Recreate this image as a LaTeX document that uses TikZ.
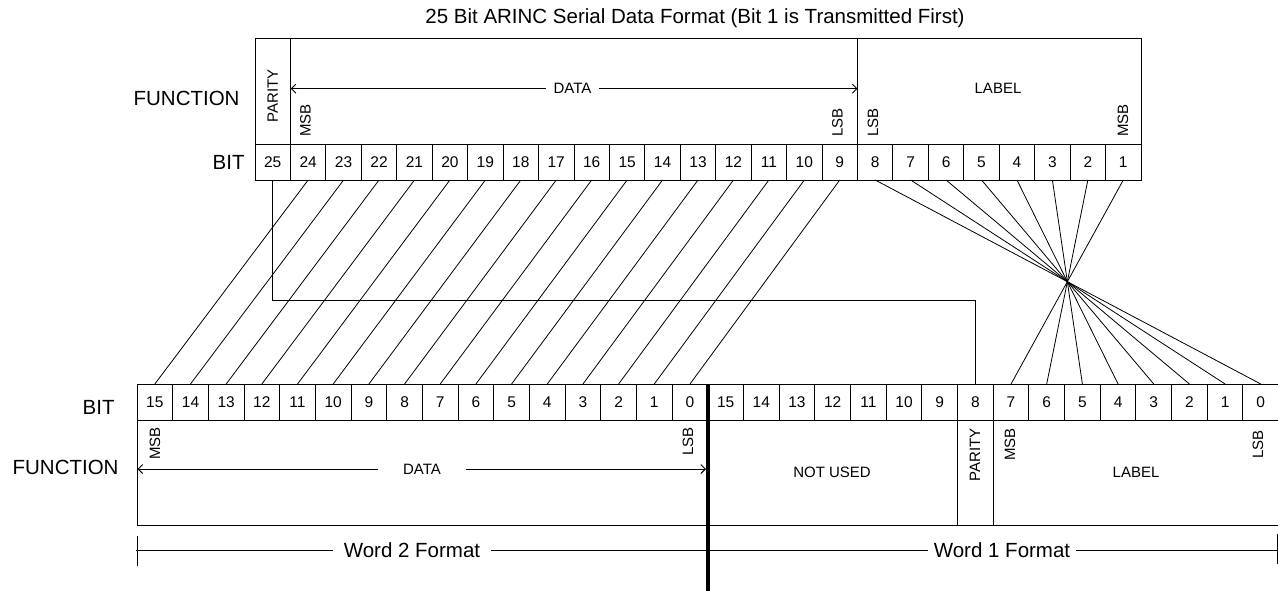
\documentclass[tikz,border=0pt]{standalone}
\usepackage{fontspec}
\setmainfont{Liberation Sans}
\usetikzlibrary{arrows.meta,calc}
\newcommand\numf{\fontsize{15.5}{18}\selectfont}
\newcommand\bigf{\fontsize{20.5}{24}\selectfont}
\newcommand\labf{\fontsize{15}{18}\selectfont}
\begin{document}
\begin{tikzpicture}[x=1pt,y=-1pt,line width=0.9pt,
  cellT/.style={draw, minimum width=35.44pt, minimum height=36pt, inner sep=0pt, outer sep=0pt, font=\numf},
  cellB/.style={draw, minimum width=35.675pt, minimum height=36pt, inner sep=0pt, outer sep=0pt, font=\numf},
  rot/.style={rotate=90, inner sep=0pt, font=\labf},
  lab/.style={font=\labf, inner sep=0pt},
  big/.style={font=\bigf, inner sep=0pt},
  conn/.style={line width=0.8pt},
  barb/.style={{Straight Barb[length=4.5pt,width=9pt]}-}]
\useasboundingbox (0,0) rectangle (1278,590);

% title
\node[big] (title) at (695,18) {25 Bit ARINC Serial Data Format (Bit 1 is Transmitted First)};

% ---------- top word ----------
\node[big, anchor=east] (fT) at (240,98.7) {FUNCTION};
\node[big, anchor=east] (bT) at (245,162) {BIT};
\draw (255,38) rectangle (1141,144);
\draw (290.72,38) -- (290.72,144);
\draw (857.5,38) -- (857.5,144);
\foreach \b in {25,...,1}
  \node[cellT] (tb\b) at ({272.72+35.44*(25-\b)},162) {\b};

\node[rot, anchor=west] (parT) at (272.7,123) {PARITY};
\node[rot, anchor=west] (msbT) at (305.5,137) {MSB};
\node[rot, anchor=west] (lsbT9) at (837.5,137) {LSB};
\node[rot, anchor=west] (lsbT8) at (873,137) {LSB};
\node[rot, anchor=west] (msbT1) at (1123,137) {MSB};

\node[lab, inner xsep=7.5pt] (dT) at (572.5,88.7) {DATA};
\coordinate (dTl) at (290.72,88.7);
\coordinate (dTr) at (857.5,88.7);
\draw[barb] (dTl) -- (dT.west);
\draw[-{Straight Barb[length=4.5pt,width=9pt]}] (dT.east) -- (dTr);
\node[lab] (labT) at (998,88) {LABEL};

% ---------- bottom words ----------
\node[big, anchor=east] (bB) at (115,407) {BIT};
\node[big, anchor=east] (fB) at (119,467) {FUNCTION};
\draw (137,420) rectangle (1279.5,525);
\draw (957.5,420) -- (957.5,525);
\draw (993.2,420) -- (993.2,525);
\foreach \k in {15,...,0}{
  \node[cellB] (w2b\k) at ({154.84+35.675*(15-\k)},402) {\k};
  \node[cellB] (w1b\k) at ({154.84+35.675*(31-\k)},402) {\k};
}

\node[rot, anchor=east] (msbB2) at (155,427) {MSB};
\node[rot, anchor=east] (lsbB2) at (688,427) {LSB};
\node[rot, anchor=east] (parB) at (975,428) {PARITY};
\node[rot, anchor=east] (msbB1) at (1010,428) {MSB};
\node[rot, anchor=east] (lsbB1) at (1258,430) {LSB};

\node[lab, inner xsep=24.5pt] (dB) at (422,469) {DATA};
\coordinate (dBl) at (137.5,469);
\coordinate (dBr) at (706,469);
\draw[barb] (dBl) -- (dB.west);
\draw[-{Straight Barb[length=4.5pt,width=9pt]}] (dB.east) -- (dBr);
\node[lab] (nu) at (832,472) {NOT USED};
\node[lab] (labB) at (1136,472) {LABEL};

% word format line
\node[big, inner xsep=10pt] (w2f) at (412,550) {Word 2 Format};
\node[big, inner xsep=5.5pt] (w1f) at (1002,550) {Word 1 Format};
\coordinate (wl) at (136,550);
\coordinate (wr) at (1277,550);
\draw (wl) -- (w2f.west);
\draw (w2f.east) -- (w1f.west);
\draw (w1f.east) -- (wr);
\coordinate (tkl1) at (137,536);
\coordinate (tkl2) at (137,566);
\coordinate (tkr1) at (1277,534);
\coordinate (tkr2) at (1277,564);
\draw (tkl1) -- (tkl2);
\draw (tkr1) -- (tkr2);

% thick separator
\coordinate (sepT) at (707.8,384);
\coordinate (sepB) at (707.8,592);
\draw[line width=3.5pt] (sepT) -- (sepB);

% ---------- connectors ----------
\foreach \b in {24,...,9}{
  \pgfmathtruncatemacro\k{\b-9}
  \draw[conn] (tb\b.south) -- (w2b\k.north);
}
\foreach \b in {8,...,1}{
  \pgfmathtruncatemacro\k{8-\b}
  \draw[conn] (tb\b.south) -- (w1b\k.north);
}
\coordinate (pbend) at (272.72,300);
\draw[conn] (tb25.south) -- (pbend) -| (w1b8.north);
\end{tikzpicture}
\end{document}
